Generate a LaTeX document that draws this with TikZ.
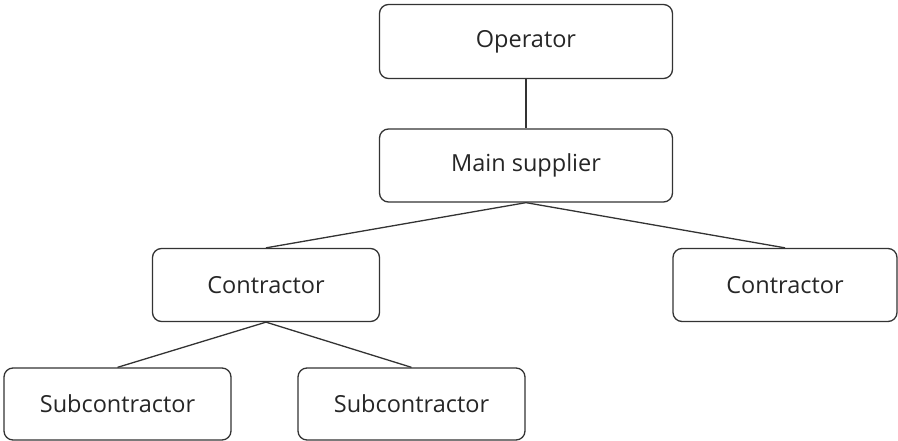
\documentclass[tikz,border=0pt]{standalone}
\usepackage{fontspec}
\setmainfont{Open Sans}
\begin{document}
\begin{tikzpicture}[x=1pt,y=-1pt,
  box/.style={draw=black!80, line width=1.3pt, rounded corners=9pt, fill=white,
    text=black!85, font=\fontsize{23.5}{28}\selectfont, inner sep=0pt},
  link/.style={draw=black!80, line width=1.3pt}]
  \useasboundingbox (0,0) rectangle (898,441);
  % hierarchy boxes, sized from corner to corner
  \node[box, minimum width=293pt, minimum height=74pt] (op) at (526,41.5) {Operator};
  \node[box, minimum width=293pt, minimum height=73pt] (ms) at (526,165.5) {Main supplier};
  \node[box, minimum width=227pt, minimum height=73pt] (cl) at (266,285) {Contractor};
  \node[box, minimum width=224pt, minimum height=73pt] (cr) at (785,285) {Contractor};
  \node[box, minimum width=227pt, minimum height=72pt] (s1) at (117.5,404) {Subcontractor};
  \node[box, minimum width=227pt, minimum height=72pt] (s2) at (411.5,404) {Subcontractor};
  % connectors
  \draw[link] (op.south) -- (ms.north);
  \draw[link] (ms.south) -- (cl.north);
  \draw[link] (ms.south) -- (cr.north);
  \draw[link] (cl.south) -- (s1.north);
  \draw[link] (cl.south) -- (s2.north);
\end{tikzpicture}
\end{document}
